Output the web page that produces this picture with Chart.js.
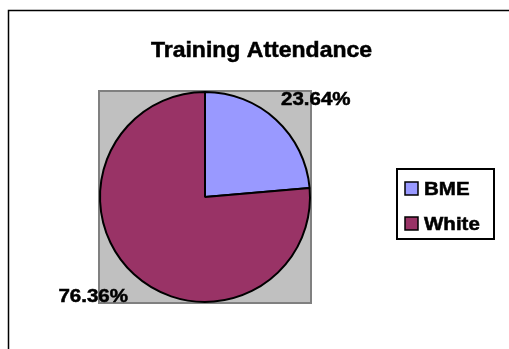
<!DOCTYPE html>
<html>
<head>
<meta charset="utf-8">
<script src="https://cdn.jsdelivr.net/npm/chart.js@4/dist/chart.umd.min.js"></script>
<style>
  html, body { margin: 0; padding: 0; background: #fff; overflow: hidden; }
  canvas { display: block; }
</style>
</head>
<body>
<canvas id="chart" width="509" height="349"></canvas>
<script>
const chartTitle = 'Training Attendance';
const groups = ['BME', 'White'];
const attendance = [23.64, 76.36];
const sliceColors = ['#9999FF', '#993366'];

const FONT = '"Liberation Sans", Arial, sans-serif';

// excel-ish text: heavy bold arial, a bit stretched sideways
function stretchText(ctx, text, x, y, size, sx, align) {
  ctx.save();
  ctx.font = 'bold ' + size + 'px ' + FONT;
  ctx.textBaseline = 'alphabetic';
  ctx.textAlign = 'left';
  const w = ctx.measureText(text).width * sx;
  let left = x;
  if (align === 'center') left = x - w / 2;
  else if (align === 'right') left = x - w;
  ctx.translate(left, y);
  ctx.scale(sx, 1);
  ctx.fillStyle = '#000';
  ctx.strokeStyle = '#000';
  ctx.lineWidth = 0.5;
  ctx.fillText(text, 0, 0);
  ctx.strokeText(text, 0, 0);
  ctx.restore();
}

const framePlugin = {
  id: 'frame',
  beforeDraw(chart) {
    const ctx = chart.ctx;
    ctx.save();
    ctx.fillStyle = '#fff';
    ctx.fillRect(0, 0, chart.width, chart.height);
    ctx.strokeStyle = '#000';
    ctx.lineWidth = 1.5;
    ctx.strokeRect(8.5, 10.5, chart.width + 20, chart.height + 20);
    ctx.restore();
  },
  beforeDatasetsDraw(chart) {
    const {ctx, chartArea: a} = chart;
    ctx.save();
    ctx.fillStyle = '#C0C0C0';
    ctx.fillRect(a.left, a.top, a.width, a.height);
    ctx.strokeStyle = '#808080';
    ctx.lineWidth = 2;
    ctx.strokeRect(a.left, a.top, a.width, a.height);
    ctx.restore();
  }
};

const labelsPlugin = {
  id: 'pctLabels',
  afterDatasetsDraw(chart) {
    const ctx = chart.ctx;
    const meta = chart.getDatasetMeta(0);
    meta.data.forEach((arc, i) => {
      const p = arc.getProps(['x', 'y', 'startAngle', 'endAngle', 'outerRadius'], true);
      const mid = (p.startAngle + p.endAngle) / 2;
      const px = p.x + Math.cos(mid) * p.outerRadius;
      const py = p.y + Math.sin(mid) * p.outerRadius;
      const right = Math.cos(mid) >= 0;
      const upper = Math.sin(mid) < 0;
      const tx = right ? px + 5 : px - 6;
      const ty = upper ? py - 15 : py + 28;
      stretchText(ctx, attendance[i].toFixed(2) + '%', tx, ty, 18, 1.14, right ? 'left' : 'right');
    });

    // title
    stretchText(ctx, chartTitle, 261.5, 57, 21.5, 1.07, 'center');

    // legend
    ctx.save();
    ctx.strokeStyle = '#000';
    ctx.lineWidth = 2;
    ctx.strokeRect(397, 169, 97, 70);
    groups.forEach((g, i) => {
      const y = 182 + i * 35;
      ctx.fillStyle = sliceColors[i];
      ctx.fillRect(405, y, 13, 13);
      ctx.lineWidth = 1.5;
      ctx.strokeRect(405, y, 13, 13);
      stretchText(ctx, g, 424, y + 13, 18, 1.14, 'left');
    });
    ctx.restore();
  }
};

new Chart(document.getElementById('chart'), {
  type: 'pie',
  data: {
    labels: groups,
    datasets: [{
      data: attendance,
      backgroundColor: sliceColors,
      borderColor: '#000',
      borderWidth: 2
    }]
  },
  options: {
    responsive: false,
    animation: false,
    layout: { padding: { left: 99, top: 91, right: 198, bottom: 46 } },
    plugins: {
      legend: { display: false },
      tooltip: { enabled: false },
      title: { display: false }
    }
  },
  plugins: [framePlugin, labelsPlugin]
});
</script>
</body>
</html>
